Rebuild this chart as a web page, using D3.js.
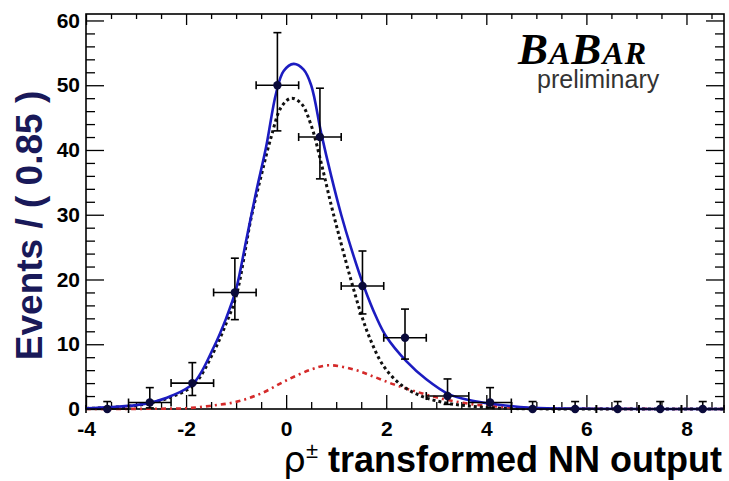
<!DOCTYPE html>
<html>
<head>
<meta charset="utf-8">
<script src="https://cdn.jsdelivr.net/npm/d3@7"></script>
<style>
  body { margin: 0; background: #fff; }
  svg { display: block; }
</style>
</head>
<body>
<svg id="chart" width="729" height="481"></svg>
<script>
// binned data (bin width 0.85)
var binWidth = 0.85;
var binCenters = [-3.575, -2.725, -1.875, -1.025, -0.175, 0.675, 1.525, 2.375, 3.225, 4.075, 4.925, 5.775, 6.625, 7.475, 8.325];
var counts = [0, 1, 4, 18, 50, 42, 19, 11, 2, 1, 0, 0, 0, 0, 0];
var errLow = [0, 0.83, 1.91, 4.20, 7.05, 6.46, 4.32, 3.29, 1.29, 0.83, 0, 0, 0, 0, 0];
var errHigh = [1.15, 2.30, 3.16, 5.29, 8.12, 7.54, 5.40, 4.43, 2.64, 2.30, 1.15, 1.15, 1.15, 1.15, 1.15];

// fitted curves
var totalX = [-4, -3.5, -3.0, -2.7, -2.3, -1.85, -1.45, -1.2, -1.0, -0.8, -0.6, -0.4, -0.2, -0.05, 0.15, 0.35, 0.5, 0.7, 0.9, 1.1, 1.3, 1.55, 1.8, 2.0, 2.4, 2.8, 3.25, 3.7, 4.1, 4.9, 6.0, 8.75];
var totalY = [0.1, 0.3, 0.6, 1.0, 2.0, 4.0, 9.5, 14.0, 18.5, 26.0, 33.5, 40.5, 48.8, 52.2, 53.3, 52.4, 50.0, 42.6, 36.0, 30.0, 24.8, 19.0, 14.2, 11.2, 7.4, 4.6, 2.3, 1.3, 0.8, 0.2, 0.05, 0];

var sigX = [-4, -3.5, -3.0, -2.7, -2.3, -1.85, -1.45, -1.2, -1.0, -0.7, -0.5, -0.3, -0.1, 0.1, 0.3, 0.5, 0.7, 0.9, 1.1, 1.3, 1.5, 1.7, 1.95, 2.3, 2.7, 3.15, 3.6, 4.2, 5.0, 8.75];
var sigY = [0.08, 0.25, 0.55, 0.95, 1.85, 3.7, 8.8, 13.2, 17.4, 29.5, 36.0, 42.0, 46.6, 48.0, 47.2, 43.8, 38.0, 31.5, 25.5, 19.8, 14.6, 10.4, 6.6, 3.7, 2.0, 1.0, 0.5, 0.15, 0.03, 0];

var bkgX = [-4, -3, -2.5, -2.0, -1.5, -1.0, -0.5, 0.0, 0.5, 0.85, 1.35, 1.75, 2.15, 2.55, 3.0, 3.5, 4.0, 5.0, 6.0, 8.75];
var bkgY = [0.0, 0.02, 0.05, 0.12, 0.5, 1.1, 2.4, 4.4, 6.1, 6.75, 6.1, 5.0, 3.8, 2.8, 1.8, 1.0, 0.5, 0.12, 0.04, 0];

var xMajor = [-4, -2, 0, 2, 4, 6, 8];
var yMajor = [0, 10, 20, 30, 40, 50, 60];

var frame = {left: 86, right: 724, top: 14, bottom: 409};

var x = d3.scaleLinear().domain([-4, 8.75]).range([frame.left, frame.right]);
var y = d3.scaleLinear().domain([0, 61]).range([frame.bottom, frame.top]);

var svg = d3.select('#chart');

function zip(xs, ys) {
    return xs.map(function(v, i) { return {x: v, y: ys[i]}; });
}
function plain(d) { return String(d); }

// minor tick values
var xMinor = d3.range(-4, 8.76, 0.5).filter(function(v) { return xMajor.indexOf(v) < 0; });
var yMinor = d3.range(0, 61, 2).filter(function(v) { return yMajor.indexOf(v) < 0; });

var axisFont = function(g) {
    g.select('.domain').remove();
    g.selectAll('text')
        .attr('font-family', 'Liberation Sans, Arial, sans-serif')
        .attr('font-weight', 'bold')
        .attr('font-size', 21)
        .attr('fill', '#000');
    g.selectAll('line').attr('stroke', '#000').attr('stroke-width', 1.3);
};

// bottom axis
svg.append('g')
    .attr('transform', 'translate(0,' + frame.bottom + ')')
    .call(d3.axisBottom(x).tickValues(xMajor).tickSize(-14).tickPadding(12).tickFormat(plain))
    .call(axisFont);
svg.append('g')
    .attr('transform', 'translate(0,' + frame.bottom + ')')
    .call(d3.axisBottom(x).tickValues(xMinor).tickSize(-7).tickFormat(''))
    .call(axisFont);
// top axis
svg.append('g')
    .attr('transform', 'translate(0,' + frame.top + ')')
    .call(d3.axisTop(x).tickValues(xMajor).tickSize(-11).tickFormat(''))
    .call(axisFont);
svg.append('g')
    .attr('transform', 'translate(0,' + frame.top + ')')
    .call(d3.axisTop(x).tickValues(xMinor).tickSize(-5).tickFormat(''))
    .call(axisFont);
// left axis
svg.append('g')
    .attr('transform', 'translate(' + frame.left + ',0)')
    .call(d3.axisLeft(y).tickValues(yMajor).tickSize(-18).tickPadding(6).tickFormat(plain))
    .call(axisFont);
svg.append('g')
    .attr('transform', 'translate(' + frame.left + ',0)')
    .call(d3.axisLeft(y).tickValues(yMinor).tickSize(-9).tickFormat(''))
    .call(axisFont);
// right axis
svg.append('g')
    .attr('transform', 'translate(' + frame.right + ',0)')
    .call(d3.axisRight(y).tickValues(yMajor).tickSize(-18).tickFormat(''))
    .call(axisFont);
svg.append('g')
    .attr('transform', 'translate(' + frame.right + ',0)')
    .call(d3.axisRight(y).tickValues(yMinor).tickSize(-9).tickFormat(''))
    .call(axisFont);

// frame
svg.append('rect')
    .attr('x', frame.left)
    .attr('y', frame.top)
    .attr('width', frame.right - frame.left)
    .attr('height', frame.bottom - frame.top)
    .attr('fill', 'none')
    .attr('stroke', '#000')
    .attr('stroke-width', 1.6);

// curves
var line = d3.line()
    .curve(d3.curveCatmullRom.alpha(0.5))
    .x(function(d) { return x(d.x); })
    .y(function(d) { return y(d.y); });

svg.append('path')
    .datum(zip(bkgX, bkgY))
    .attr('fill', 'none')
    .attr('stroke', '#d42a2a')
    .attr('stroke-width', 2.6)
    .attr('stroke-dasharray', '5,4,2,4')
    .attr('d', line);

svg.append('path')
    .datum(zip(sigX, sigY))
    .attr('fill', 'none')
    .attr('stroke', '#111')
    .attr('stroke-width', 3)
    .attr('stroke-dasharray', '3,3')
    .attr('d', line);

svg.append('path')
    .datum(zip(totalX, totalY))
    .attr('fill', 'none')
    .attr('stroke', '#1c1cc0')
    .attr('stroke-width', 2.6)
    .attr('d', line);

// data points with error bars
var pts = binCenters.map(function(c, i) {
    return {x: c, y: counts[i], lo: errLow[i], hi: errHigh[i]};
});
var cap = 4;
var pg = svg.append('g').attr('stroke', '#000').attr('stroke-width', 1.6);
pts.forEach(function(d) {
    var cx = x(d.x), cy = y(d.y);
    var x0 = x(d.x - binWidth / 2), x1 = x(d.x + binWidth / 2);
    var y0 = y(d.y - d.lo), y1 = y(d.y + d.hi);
    pg.append('line').attr('x1', x0).attr('x2', x1).attr('y1', cy).attr('y2', cy);
    pg.append('line').attr('x1', x0).attr('x2', x0).attr('y1', cy - cap).attr('y2', cy + cap);
    pg.append('line').attr('x1', x1).attr('x2', x1).attr('y1', cy - cap).attr('y2', cy + cap);
    pg.append('line').attr('x1', cx).attr('x2', cx).attr('y1', y0).attr('y2', y1);
    pg.append('line').attr('x1', cx - cap).attr('x2', cx + cap).attr('y1', y1).attr('y2', y1);
    if (d.lo > 0) {
        pg.append('line').attr('x1', cx - cap).attr('x2', cx + cap).attr('y1', y0).attr('y2', y0);
    }
});
svg.append('g').selectAll('circle')
    .data(pts)
    .enter()
    .append('circle')
    .attr('cx', function(d) { return x(d.x); })
    .attr('cy', function(d) { return y(d.y); })
    .attr('r', 4.2)
    .attr('fill', '#0a0a3a');

// axis titles
svg.append('text')
    .attr('transform', 'translate(42,' + ((frame.top + frame.bottom) / 2 + 14) + ') rotate(-90)')
    .attr('text-anchor', 'middle')
    .attr('font-family', 'Liberation Sans, Arial, sans-serif')
    .attr('font-weight', 'bold')
    .attr('font-size', 37)
    .attr('fill', '#191959')
    .text('Events / ( 0.85 )');

var xt = svg.append('text')
    .attr('x', 722)
    .attr('y', 472)
    .attr('text-anchor', 'end')
    .attr('font-family', 'Liberation Sans, Arial, sans-serif')
    .attr('font-size', 36)
    .attr('fill', '#000');
xt.append('tspan').attr('font-family', 'DejaVu Sans, sans-serif').text('ρ');
xt.append('tspan').attr('font-size', 22).attr('dy', -14).text('±');
xt.append('tspan').attr('dy', 14).attr('font-weight', 'bold').text(' transformed NN output');

// BaBar logo
var logo = svg.append('text')
    .attr('x', 518)
    .attr('y', 64)
    .attr('font-family', 'Liberation Serif, Times New Roman, serif')
    .attr('font-style', 'italic')
    .attr('font-weight', 'bold')
    .attr('letter-spacing', 1)
    .attr('fill', '#000');
logo.append('tspan').attr('font-size', 45).text('B');
logo.append('tspan').attr('font-size', 32).text('A');
logo.append('tspan').attr('font-size', 45).text('B');
logo.append('tspan').attr('font-size', 32).text('AR');

svg.append('text')
    .attr('x', 537)
    .attr('y', 88)
    .attr('font-family', 'Liberation Sans, Arial, sans-serif')
    .attr('font-size', 25)
    .attr('fill', '#333')
    .text('preliminary');
</script>
</body>
</html>
